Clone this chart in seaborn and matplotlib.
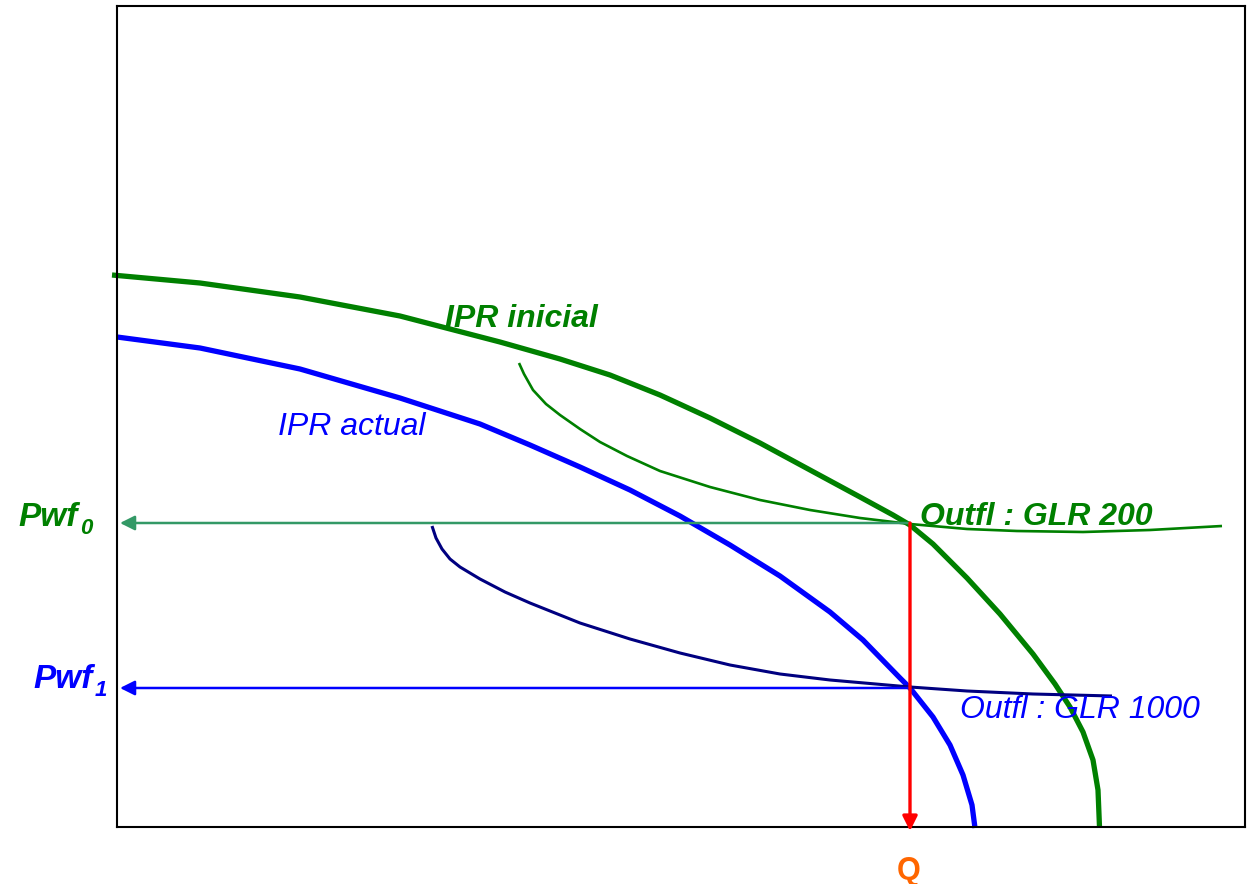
import matplotlib
matplotlib.use("Agg")
import matplotlib.pyplot as plt
import seaborn as sns
import pandas as pd

# caudal (q) y presion (p), unidades arbitrarias
ipr_ini_q = [-5, 83, 183, 283, 383, 443, 493, 543, 593, 643, 693, 743, 776, 793,
             816, 850, 883, 916, 938, 953, 966, 976, 981, 982.5]
ipr_ini_p = [552, 544, 530, 511, 485, 468, 452, 432, 409, 384, 357, 330, 312, 302,
             283, 249, 213, 173, 143, 120, 95, 67, 37, 0]

ipr_act_q = [0, 83, 183, 283, 363, 413, 463, 513, 563, 613, 663, 713, 746, 783,
             793, 816, 833, 846, 855, 858]
ipr_act_p = [490, 479, 458, 429, 403, 382, 360, 337, 311, 282, 251, 215, 187, 149,
             139, 110, 82, 52, 22, -1]

glr200_q = [402, 407, 416, 429, 443, 463, 483, 510, 543, 593, 643, 693, 743, 793,
            850, 900, 966, 1033, 1105]
glr200_p = [464, 453, 437, 423, 412, 398, 385, 371, 356, 340, 327, 317, 309, 303,
            298, 296, 295, 297, 301]

glr1000_q = [315, 319, 325, 333, 343, 353, 363, 388, 413, 463, 513, 563, 613, 663,
             713, 793, 850, 916, 995]
glr1000_p = [301, 289, 278, 268, 260, 254, 248, 235, 224, 204, 188, 174, 162, 153,
             147, 140, 136, 133, 131]

q_op = 793
pwf0 = 304
pwf1 = 139

sns.set_style("white")
plt.rcParams['font.family'] = ['Liberation Sans', 'DejaVu Sans']

fig = plt.figure(figsize=(12.48, 8.84), dpi=100)
ax = fig.add_axes([117 / 1248, 57 / 884, 1128 / 1248, 821 / 884])

def curva(q, p, color, lw):
    df = pd.DataFrame({"q": q, "p": p})
    sns.lineplot(data=df, x="q", y="p", sort=False, color=color, lw=lw,
                 ax=ax, clip_on=False, solid_capstyle="butt",
                 solid_joinstyle="round")

curva(ipr_ini_q, ipr_ini_p, "#008000", 3.8)
curva(ipr_act_q, ipr_act_p, "#0000ff", 3.8)
curva(glr200_q, glr200_p, "#008000", 1.9)
curva(glr1000_q, glr1000_p, "#000080", 2.2)

arrow = dict(arrowstyle="-|>", mutation_scale=22, shrinkA=0, shrinkB=0)
ax.annotate("", xy=(3, pwf0), xytext=(q_op, pwf0),
            arrowprops=dict(arrow, color="#339966", lw=1.8))
ax.annotate("", xy=(3, pwf1), xytext=(q_op, pwf1),
            arrowprops=dict(arrow, color="#0000ff", lw=1.8))
ax.annotate("", xy=(q_op, -4), xytext=(q_op, pwf0),
            arrowprops=dict(arrow, color="#ff0000", lw=2.4), annotation_clip=False)

ax.text(328, 508, "IPR inicial", color="#008000", fontsize=23,
        fontweight="bold", fontstyle="italic", ha="left", va="center")
ax.text(161, 400, "IPR actual", color="#0000ff", fontsize=23,
        fontstyle="italic", ha="left", va="center")
ax.text(803, 310, "Outfl : GLR 200", color="#008000", fontsize=23,
        fontweight="bold", fontstyle="italic", ha="left", va="center")
ax.text(843, 117, "Outfl : GLR 1000", color="#0000ff", fontsize=23,
        fontstyle="italic", ha="left", va="center")

# etiquetas del eje de presion
ax.text(-39, 309, "Pwf", color="#008000", fontsize=24, fontweight="bold",
        fontstyle="italic", ha="right", va="center", clip_on=False)
ax.text(-25, 298, "0", color="#008000", fontsize=16, fontweight="bold",
        fontstyle="italic", ha="right", va="center", clip_on=False)
ax.text(-24, 147, "Pwf", color="#0000ff", fontsize=24, fontweight="bold",
        fontstyle="italic", ha="right", va="center", clip_on=False)
ax.text(-10, 136, "1", color="#0000ff", fontsize=16, fontweight="bold",
        fontstyle="italic", ha="right", va="center", clip_on=False)
ax.text(q_op - 1, -44, "Q", color="#ff6600", fontsize=22, fontweight="bold",
        ha="center", va="center", clip_on=False)

ax.set_xlim(0, 1128)
ax.set_ylim(0, 821)
ax.set_xticks([])
ax.set_yticks([])
ax.set_xlabel("")
ax.set_ylabel("")
for s in ax.spines.values():
    s.set_color("black")
    s.set_linewidth(1.5)
    s.set_visible(True)

fig.savefig("out.png", dpi=100)
